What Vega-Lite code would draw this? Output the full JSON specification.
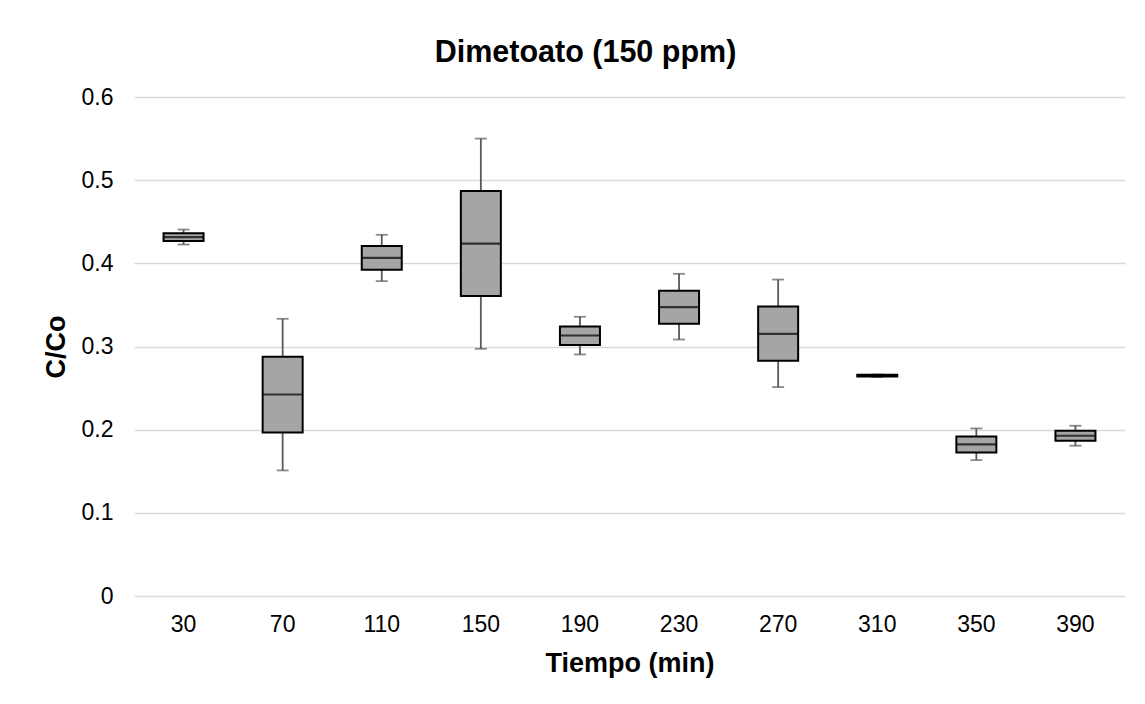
{
  "$schema": "https://vega.github.io/schema/vega-lite/v6.json",
  "autosize": {"type": "none"},
  "width": 991,
  "height": 499,
  "padding": {"left": 134, "top": 97, "right": 20, "bottom": 108},
  "background": "white",
  "title": {
    "text": "Dimetoato (150 ppm)",
    "font": "Liberation Sans",
    "fontSize": 30.5,
    "fontWeight": "bold",
    "color": "black",
    "anchor": "middle",
    "dx": -44,
    "offset": 18
  },
  "data": {
    "values": [
      {"t": 30, "lower": 0.4226, "q1": 0.4270, "median": 0.4315, "q3": 0.4363, "upper": 0.4406},
      {"t": 70, "lower": 0.1510, "q1": 0.1966, "median": 0.2423, "q3": 0.2876, "upper": 0.3333},
      {"t": 110, "lower": 0.3786, "q1": 0.3922, "median": 0.4066, "q3": 0.4207, "upper": 0.4343},
      {"t": 150, "lower": 0.2972, "q1": 0.3606, "median": 0.4238, "q3": 0.4871, "upper": 0.5500},
      {"t": 190, "lower": 0.2904, "q1": 0.3017, "median": 0.3132, "q3": 0.3240, "upper": 0.3357},
      {"t": 230, "lower": 0.3084, "q1": 0.3273, "median": 0.3473, "q3": 0.3669, "upper": 0.3874},
      {"t": 270, "lower": 0.2512, "q1": 0.2828, "median": 0.3153, "q3": 0.3481, "upper": 0.3805},
      {"t": 310, "lower": 0.2632, "q1": 0.2638, "median": 0.2648, "q3": 0.2659, "upper": 0.2664},
      {"t": 350, "lower": 0.1634, "q1": 0.1726, "median": 0.1822, "q3": 0.1918, "upper": 0.2015},
      {"t": 390, "lower": 0.1807, "q1": 0.1867, "median": 0.1927, "q3": 0.1987, "upper": 0.2047}
    ]
  },
  "encoding": {
    "x": {
      "field": "t",
      "type": "ordinal",
      "scale": {"type": "band", "paddingInner": 0, "paddingOuter": 0},
      "axis": {
        "title": "Tiempo (min)",
        "labelAngle": 0,
        "ticks": false,
        "tickSize": 0,
        "domain": false,
        "grid": false,
        "labelPadding": 17,
        "titlePadding": 14
      }
    }
  },
  "layer": [
    {
      "mark": {"type": "rule", "color": "#595959", "strokeWidth": 1.8},
      "encoding": {
        "y": {
          "field": "lower",
          "type": "quantitative",
          "scale": {"domain": [0, 0.6], "nice": false, "zero": true},
          "axis": {
            "title": "C/Co",
            "values": [0, 0.1, 0.2, 0.3, 0.4, 0.5, 0.6],
            "format": ".1~f",
            "domain": false,
            "ticks": false,
            "tickSize": 0,
            "labelPadding": 21,
            "titlePadding": 11,
            "grid": true
          }
        },
        "y2": {"field": "upper"}
      }
    },
    {
      "mark": {"type": "tick", "color": "#595959", "thickness": 1.8, "size": 12},
      "encoding": {"y": {"field": "lower", "type": "quantitative"}}
    },
    {
      "mark": {"type": "tick", "color": "#595959", "thickness": 1.8, "size": 12},
      "encoding": {"y": {"field": "upper", "type": "quantitative"}}
    },
    {
      "mark": {"type": "bar", "size": 40, "fill": "#A5A5A5", "stroke": "black", "strokeWidth": 2},
      "encoding": {
        "y": {"field": "q1", "type": "quantitative"},
        "y2": {"field": "q3"}
      }
    },
    {
      "mark": {"type": "tick", "color": "black", "thickness": 2.2, "size": 40},
      "encoding": {"y": {"field": "median", "type": "quantitative"}}
    }
  ],
  "config": {
    "view": {"stroke": null},
    "font": "Liberation Sans",
    "axis": {
      "labelFont": "Liberation Sans",
      "labelFontSize": 23,
      "labelColor": "black",
      "titleFont": "Liberation Sans",
      "titleFontSize": 27,
      "titleFontWeight": "bold",
      "titleColor": "black",
      "gridColor": "#D9D9D9",
      "gridWidth": 1.3
    }
  }
}
